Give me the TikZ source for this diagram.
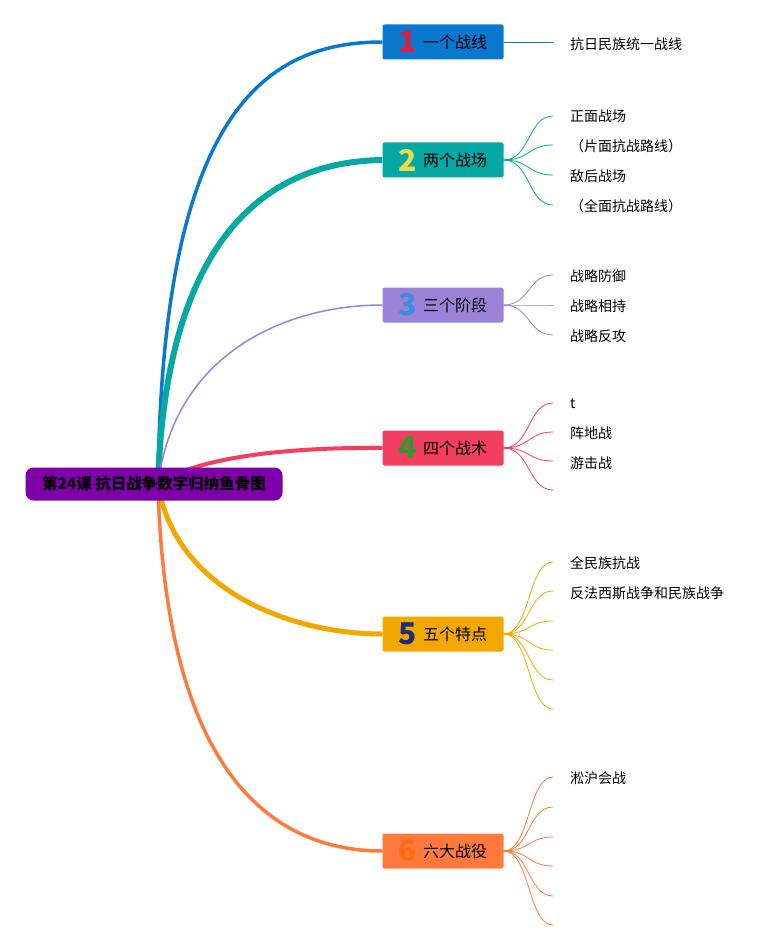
\documentclass[tikz,border=0pt]{standalone}
\usepackage{fontspec}
\setmainfont{Noto Sans CJK SC}
\usepackage{xcolor}
\definecolor{rootpurple}{HTML}{7D00A8}
\definecolor{topicblue}{HTML}{0A78CF}
\definecolor{topicteal}{HTML}{06A8A4}
\definecolor{topiclav}{HTML}{9B82D6}
\definecolor{topicpink}{HTML}{F23F5F}
\definecolor{topicgold}{HTML}{F2A800}
\definecolor{topiccoral}{HTML}{FF7A3C}
\definecolor{numred}{HTML}{D9213F}
\definecolor{numyellow}{HTML}{F2D64B}
\definecolor{numblue}{HTML}{3A8EE0}
\definecolor{numgreen}{HTML}{2E9B32}
\definecolor{numnavy}{HTML}{1C2C78}
\definecolor{numorange}{HTML}{FF6B12}
\usetikzlibrary{backgrounds}
\tikzset{
  topic/.style={fill=#1, rounded corners=2pt, minimum width=121pt, minimum height=35pt, inner sep=0pt, font=\fontsize{16}{16}\selectfont},
  leaf/.style={anchor=west, inner sep=0pt, font=\fontsize{14}{14}\selectfont},
  rootbox/.style={fill=rootpurple, rounded corners=8pt, minimum width=257pt, minimum height=33pt, inner sep=0pt, font=\fontsize{15.5}{15.5}\selectfont\bfseries},
  twig/.style={#1, line width=0.8pt}
}
\newcommand{\topicnum}[2]{\raisebox{-4.5pt}{\textcolor{#1}{\fontsize{30}{30}\selectfont\bfseries #2}}\hspace{6pt}}

\begin{document}
\begin{tikzpicture}[x=1pt,y=-1pt]
        \useasboundingbox (0,0) rectangle (783,952);
        \node[rootbox] (root) at (154,484) {第24课 抗日战争数字归纳鱼骨图};
        \coordinate (hub) at (158,484);
        \node[topic=topicblue] (b1) at (443,42) {\topicnum{numred}{1}一个战线};
        \node[topic=topicteal] (b2) at (443,160) {\topicnum{numyellow}{2}两个战场};
        \node[topic=topiclav] (b3) at (443,305) {\topicnum{numblue}{3}三个阶段};
        \node[topic=topicpink] (b4) at (443,448) {\topicnum{numgreen}{4}四个战术};
        \node[topic=topicgold] (b5) at (443,634) {\topicnum{numnavy}{5}五个特点};
        \node[topic=topiccoral] (b6) at (443,851) {\topicnum{numorange}{6}六大战役};
        % main branches
        \begin{scope}[on background layer]
          \draw[topicblue, line width=3.5pt] (hub) .. controls (162,120) and (260,42) .. (b1.west);
          \draw[topicteal, line width=6pt] (hub) .. controls (165,260) and (250,162) .. (b2.west);
          \draw[topiclav, line width=1.5pt] (hub) .. controls (175,350) and (290,305) .. (b3.west);
          \draw[topicpink, line width=4pt] (hub) .. controls (200,455) and (300,447) .. (b4.west);
          \draw[topicgold, line width=5pt] (hub) .. controls (175,590) and (290,634) .. (b5.west);
          \draw[topiccoral, line width=3.5pt] (hub) .. controls (165,770) and (270,851) .. (b6.west);
        \end{scope}
        % leaves
        \coordinate (b1l1) at (553,42);
        \draw[twig=topicblue] (b1.east) -- (b1l1);
        \node[leaf] (b1t1) at (570,44) {抗日民族统一战线};
        \foreach \y [count=\i] in {116,145,175,205}
          {\coordinate (b2l\i) at (553,\y);
           \draw[twig=topicteal] (b2.east) .. controls (530,160) and (528,\y) .. (b2l\i);}
        \node[leaf] (b2t1) at (570,116) {正面战场};
        \node[leaf] (b2t2) at (570,146) {（片面抗战路线）};
        \node[leaf] (b2t3) at (570,176) {敌后战场};
        \node[leaf] (b2t4) at (570,206) {（全面抗战路线）};
        \foreach \y [count=\i] in {275,305,335}
          {\coordinate (b3l\i) at (553,\y);
           \draw[twig=topiclav] (b3.east) .. controls (530,305) and (528,\y) .. (b3l\i);}
        \node[leaf] (b3t1) at (570,276) {战略防御};
        \node[leaf] (b3t2) at (570,306) {战略相持};
        \node[leaf] (b3t3) at (570,336) {战略反攻};
        \foreach \y [count=\i] in {403,432,461,490}
          {\coordinate (b4l\i) at (553,\y);
           \draw[twig=topicpink] (b4.east) .. controls (530,448) and (528,\y) .. (b4l\i);}
        \node[leaf] (b4t1) at (570,404) {t};
        \node[leaf] (b4t2) at (570,433) {阵地战};
        \node[leaf] (b4t3) at (570,463) {游击战};
        \foreach \y [count=\i] in {562,591,621,650,680,709}
          {\coordinate (b5l\i) at (553,\y);
           \draw[twig=topicgold] (b5.east) .. controls (530,634) and (528,\y) .. (b5l\i);}
        \node[leaf] (b5t1) at (570,563) {全民族抗战};
        \node[leaf] (b5t2) at (570,593) {反法西斯战争和民族战争};
        \foreach \y [count=\i] in {777,807,837,866,896,925}
          {\coordinate (b6l\i) at (553,\y);
           \draw[twig=topiccoral] (b6.east) .. controls (530,851) and (528,\y) .. (b6l\i);}
        \node[leaf] (b6t1) at (570,778) {淞沪会战};
      \end{tikzpicture}
\end{document}
